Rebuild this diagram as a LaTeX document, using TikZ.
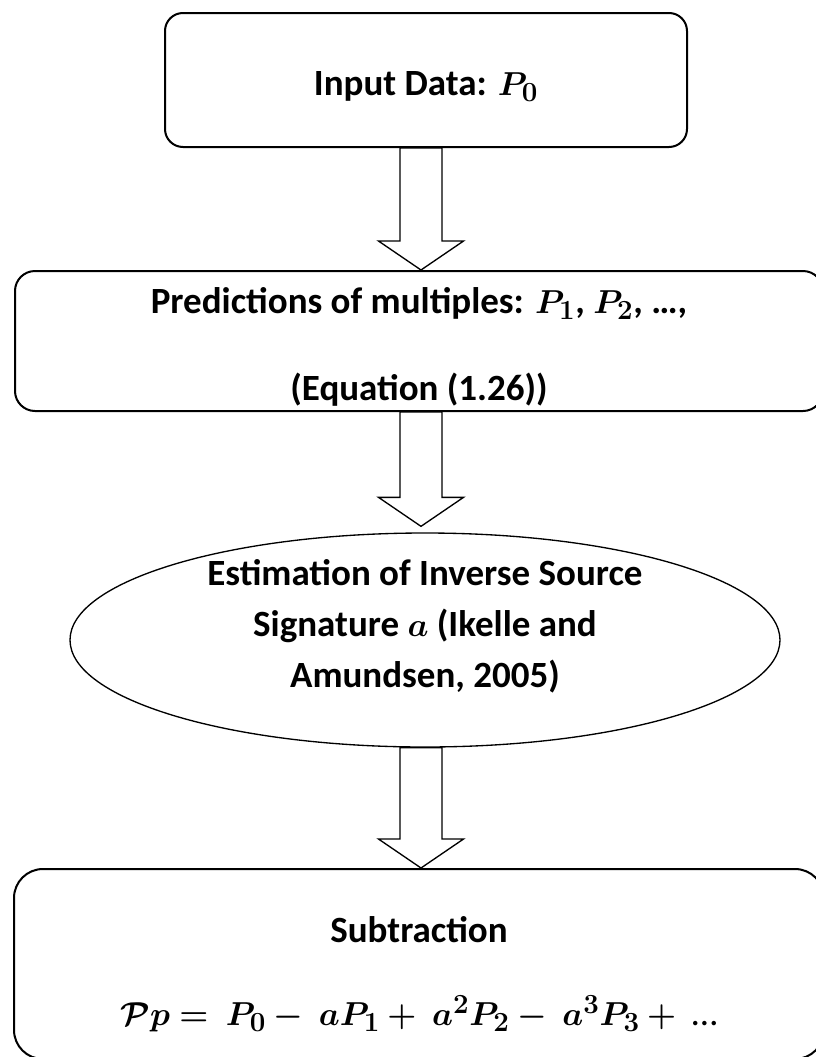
\documentclass[tikz,border=0pt]{standalone}
\usepackage{amsmath}
\usepackage{bm}
\usepackage{fontspec}
\setmainfont{Carlito}
\usetikzlibrary{shapes.geometric, calc}

\begin{document}
\begin{tikzpicture}[
x=0.75pt, y=-0.75pt,
font=\fontsize{27.75pt}{34pt}\selectfont\bfseries,
box/.style={rectangle, draw=black, line width=1.5pt, align=center, inner sep=0pt},
oval/.style={ellipse, draw=black, line width=1pt, align=center, inner sep=-20pt},
hollow/.style={draw=black, fill=white, line width=1pt, to path={
  let \p1=(\tikztostart), \p2=(\tikztotarget) in
  (\x1-15.75pt,\y1) -- (\x1-15.75pt,\y2+21.75pt) -- (\x1-31.9pt,\y2+21.75pt)
  -- (\x1,\y2) -- (\x1+31.9pt,\y2+21.75pt) -- (\x1+15.75pt,\y2+21.75pt)
  -- (\x1+15.75pt,\y1) -- cycle}}
]
\useasboundingbox (0,0) rectangle (816,1057);
\clip (0,0) rectangle (816,1057);

\coordinate (axis) at (421,0);

\node[box, rounded corners=13.5pt, minimum width=391.5pt, minimum height=100.5pt] (input) at (426,80)
  {\rule{0pt}{28pt}Input Data: $\bm{P_0}$};
\node[box, rounded corners=15pt, minimum width=606pt, minimum height=105pt] (predict) at (419,341)
  {\rule{0pt}{28pt}Predictions of multiples: $\bm{P_1}$, $\bm{P_2}$, …,\\[31pt] (Equation (1.26))};
\node[oval, minimum width=532.5pt, minimum height=160.5pt] (estimate) at (425,640)
  {Estimation of Inverse Source\\[4.5pt] Signature $\bm{a}$ (Ikelle and\\[4.5pt] Amundsen, 2005)\rule[-25pt]{0pt}{0pt}};
\node[box, rounded corners=21.75pt, minimum width=607.5pt, minimum height=142.5pt] (subtract) at (419,964)
  {\rule{0pt}{34.5pt}Subtraction\\[28.5pt] $\bm{\mathcal{P}p =\ P_0 -\ aP_1 + \ a^2P_2 -\ a^3P_3 +{}}$\ \textmd{…}};

% block arrows
\draw[hollow] (input.south -| axis) to (predict.north -| axis);
\draw[hollow] (predict.south -| axis) to ($(estimate.north -| axis)+(0,-6)$);
\draw[hollow] (estimate.south -| axis) to (subtract.north -| axis);

\end{tikzpicture}
\end{document}
